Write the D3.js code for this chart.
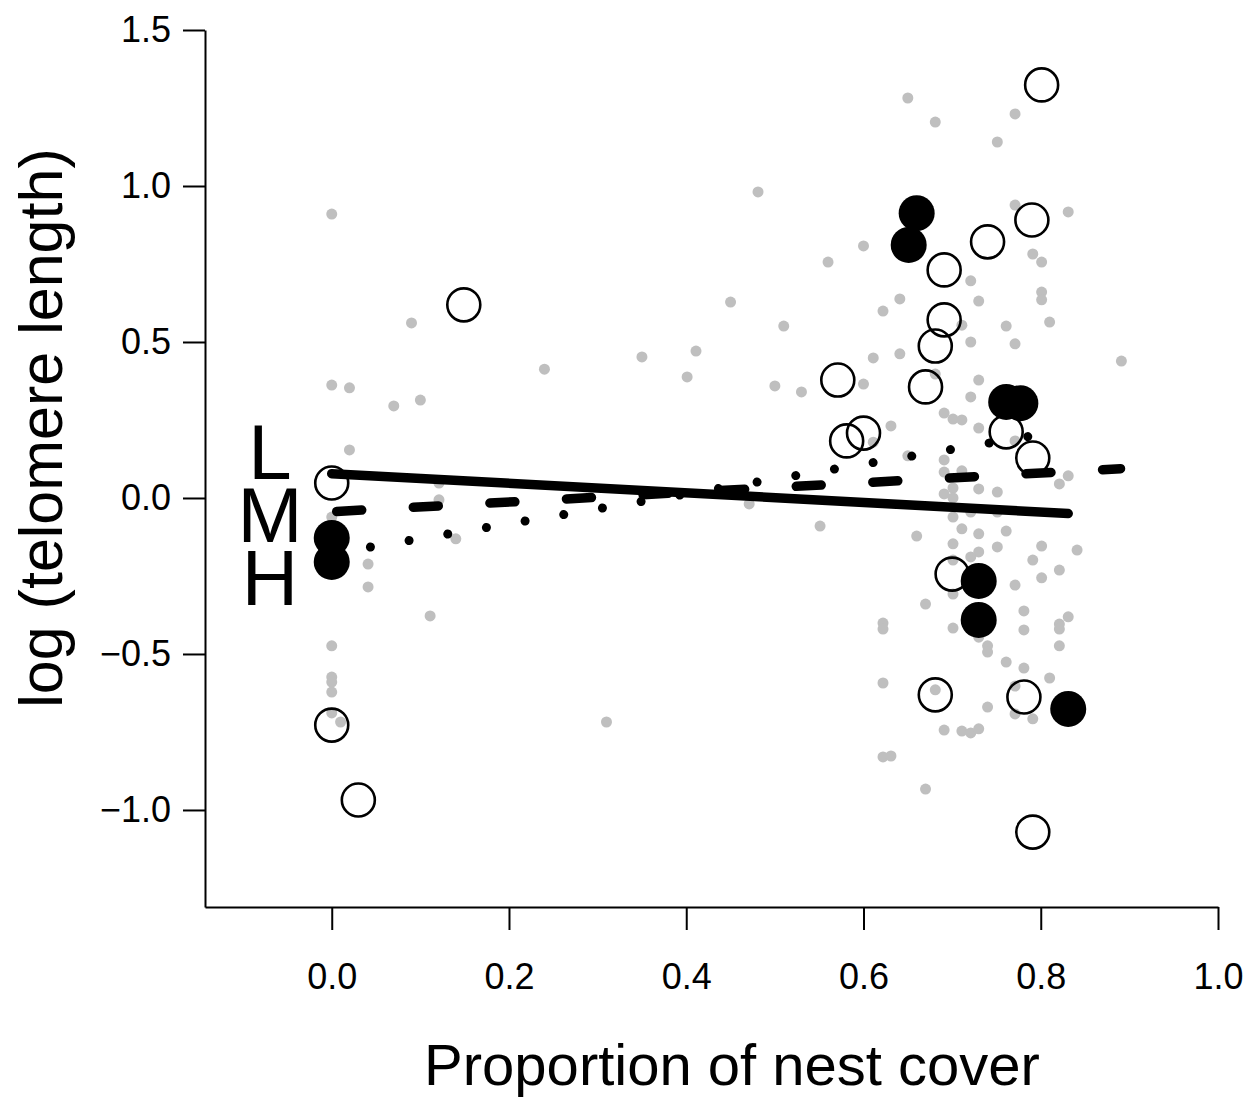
<!DOCTYPE html>
<html>
<head>
<meta charset="utf-8">
<script src="https://cdn.jsdelivr.net/npm/d3@7"></script>
<style>
  html, body { margin: 0; padding: 0; background: #fff; }
  text { font-family: "Liberation Sans", Arial, Helvetica, sans-serif; fill: #000; }
</style>
</head>
<body>
<svg id="chart" width="1254" height="1099"></svg>
<script>
// ---- data ----
const grayX = [0.000,0.650,0.681,0.771,0.751,0.481,0.771,0.831,0.791,0.801,0.600,0.560,0.721,0.801,0.801,0.730,0.641,0.622,0.450,0.090,
  0.510,0.711,0.761,0.810,0.721,0.771,0.641,0.611,0.350,0.411,0.401,0.891,0.240,0.000,0.020,0.070,0.100,0.500,0.530,0.600,
  0.681,0.730,0.721,0.691,0.701,0.711,0.631,0.730,0.611,0.771,0.650,0.020,0.691,0.711,0.691,0.831,0.821,0.121,0.121,0.730,
  0.751,0.701,0.691,0.701,0.471,0.721,0.751,0.000,0.701,0.551,0.711,0.730,0.761,0.660,0.140,0.701,0.730,0.751,0.721,0.801,
  0.841,0.701,0.791,0.041,0.821,0.801,0.041,0.771,0.701,0.670,0.781,0.831,0.111,0.622,0.622,0.821,0.821,0.701,0.781,0.730,
  0.740,0.740,0.821,0.000,0.761,0.781,0.810,0.000,0.000,0.622,0.771,0.681,0.000,0.740,0.771,0.791,0.000,0.010,0.310,0.691,
  0.711,0.721,0.730,0.622,0.631,0.670];
const grayY = [0.910,1.282,1.205,1.231,1.141,0.981,0.939,0.917,0.782,0.756,0.808,0.756,0.696,0.660,0.635,0.631,0.638,0.599,0.628,0.561,
  0.551,0.554,0.551,0.564,0.500,0.494,0.462,0.449,0.452,0.471,0.388,0.439,0.413,0.362,0.353,0.295,0.314,0.359,0.340,0.365,
  0.397,0.378,0.324,0.272,0.253,0.250,0.231,0.224,0.179,0.183,0.135,0.154,0.122,0.087,0.083,0.071,0.045,0.048,-0.006,0.029,
  0.019,0.032,0.013,0.000,-0.019,-0.045,-0.045,-0.061,-0.061,-0.090,-0.099,-0.115,-0.106,-0.122,-0.131,-0.147,-0.173,-0.157,-0.189,-0.154,
  -0.167,-0.199,-0.199,-0.212,-0.231,-0.256,-0.285,-0.279,-0.308,-0.340,-0.362,-0.381,-0.378,-0.401,-0.420,-0.404,-0.420,-0.417,-0.423,-0.446,
  -0.474,-0.494,-0.474,-0.474,-0.526,-0.545,-0.577,-0.574,-0.590,-0.593,-0.603,-0.615,-0.622,-0.670,-0.692,-0.708,-0.689,-0.718,-0.718,-0.744,
  -0.747,-0.753,-0.740,-0.830,-0.827,-0.933];

const openX = [0.801,0.149,0.790,0.740,0.691,0.691,0.681,0.670,0.571,0.600,0.581,0.761,0.791,0.000,0.700,0.000,0.030,0.681,0.781,0.791];
const openY = [1.324,0.619,0.891,0.821,0.731,0.571,0.487,0.356,0.378,0.208,0.183,0.212,0.128,0.048,-0.244,-0.728,-0.968,-0.631,-0.638,-1.071];

const filledX = [0.660,0.651,0.761,0.777,0.000,0.000,0.730,0.730,0.831];
const filledY = [0.913,0.811,0.308,0.304,-0.128,-0.205,-0.266,-0.391,-0.676];

// fitted lines: L (solid), M (dashed), H (dotted)
const lineLX = [0.000, 0.831], lineLY = [0.078, -0.050];
const lineMX = [0.000, 0.890], lineMY = [-0.044, 0.094];
const lineHX = [0.000, 0.790], lineHY = [-0.178, 0.199];

const groupLabels = ["L", "M", "H"];
const xTicks = [0.0, 0.2, 0.4, 0.6, 0.8, 1.0];
const yTicks = [-1.0, -0.5, 0.0, 0.5, 1.0, 1.5];
const xTitle = "Proportion of nest cover";
const yTitle = "log (telomere length)";

// ---- drawing ----
const svg = d3.select("#chart");
const x = d3.scaleLinear().domain([-0.143, 1.0]).range([205, 1218]);
const y = d3.scaleLinear().domain([-1.311, 1.5]).range([907, 30]);

// gray background points
svg.append("g").selectAll("circle")
  .data(grayX.map((d, i) => [d, grayY[i]]))
  .join("circle")
  .attr("cx", d => x(d[0])).attr("cy", d => y(d[1]))
  .attr("r", 5.5).attr("fill", "#bfbfbf");

// open circles
svg.append("g").selectAll("circle")
  .data(openX.map((d, i) => [d, openY[i]]))
  .join("circle")
  .attr("cx", d => x(d[0])).attr("cy", d => y(d[1]))
  .attr("r", 16.5).attr("fill", "none").attr("stroke", "#000").attr("stroke-width", 2.6);

// filled circles
svg.append("g").selectAll("circle")
  .data(filledX.map((d, i) => [d, filledY[i]]))
  .join("circle")
  .attr("cx", d => x(d[0])).attr("cy", d => y(d[1]))
  .attr("r", 18).attr("fill", "#000");

// regression lines
const line = d3.line().x(d => x(d[0])).y(d => y(d[1]));
const mk = (xs, ys) => xs.map((d, i) => [d, ys[i]]);
svg.append("path").attr("d", line(mk(lineLX, lineLY)))
  .attr("fill", "none").attr("stroke", "#000").attr("stroke-width", 9.5).attr("stroke-linecap", "round");
svg.append("path").attr("d", line(mk(lineMX, lineMY)))
  .attr("fill", "none").attr("stroke", "#000").attr("stroke-width", 9.5).attr("stroke-linecap", "round")
  .attr("stroke-dasharray", "25,51.7").attr("stroke-dashoffset", -5);
svg.append("path").attr("d", line(mk(lineHX, lineHY)))
  .attr("fill", "none").attr("stroke", "#000").attr("stroke-width", 9).attr("stroke-linecap", "round")
  .attr("stroke-dasharray", "0.01,39.2");

// group labels (one text block, stacked tightly as in the reference)
const labelBase = [479, 542, 605];
svg.append("text")
  .attr("text-anchor", "middle").attr("font-size", 78)
  .selectAll("tspan")
  .data(groupLabels)
  .join("tspan")
  .attr("x", 270).attr("y", (d, i) => labelBase[i])
  .text(d => d);

// axes
const fmt = d3.format(".1f");
const xAxis = svg.append("g").attr("transform", "translate(0,907)")
  .call(d3.axisBottom(x).tickValues(xTicks).tickFormat(fmt).tickSize(23).tickSizeOuter(0).tickPadding(33));
const yAxis = svg.append("g").attr("transform", "translate(205,0)")
  .call(d3.axisLeft(y).tickValues(yTicks).tickFormat(fmt).tickSize(22).tickSizeOuter(0).tickPadding(12));
[xAxis, yAxis].forEach(a => {
  a.select(".domain").attr("stroke", "#000").attr("stroke-width", 2);
  a.selectAll(".tick line").attr("stroke", "#000").attr("stroke-width", 2);
  a.selectAll(".tick text").attr("font-size", 36).attr("fill", "#000")
    .attr("font-family", '"Liberation Sans", Arial, Helvetica, sans-serif');
});

// axis titles
svg.append("text").attr("x", 732).attr("y", 1085).attr("text-anchor", "middle")
  .attr("font-size", 58).text(xTitle);
svg.append("text").attr("transform", "translate(62,428) rotate(-90)")
  .attr("text-anchor", "middle").attr("font-size", 61).text(yTitle);
</script>
</body>
</html>
